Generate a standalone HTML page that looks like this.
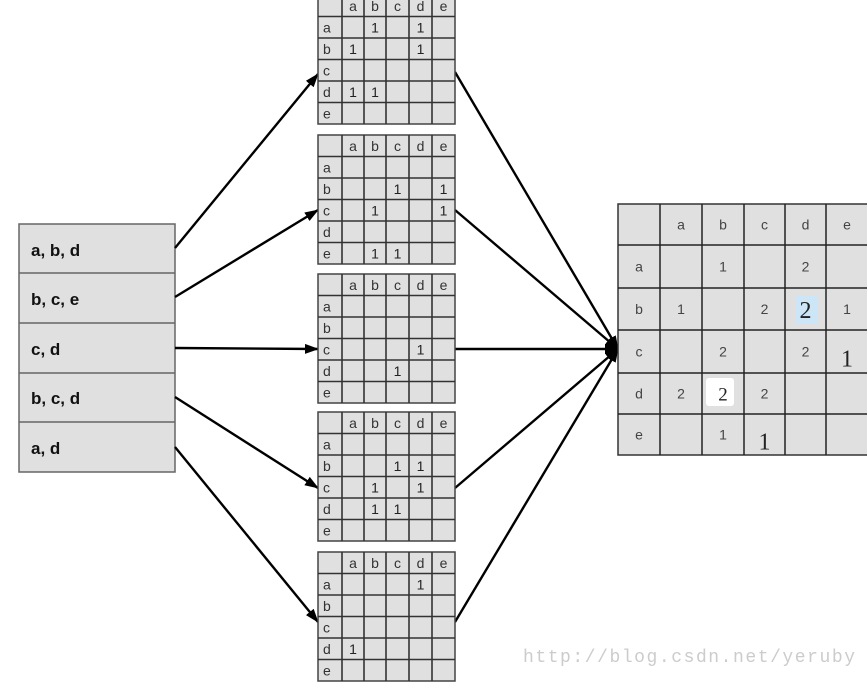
<!DOCTYPE html>
<html><head><meta charset="utf-8"><style>
body{margin:0;background:#fff;width:867px;height:690px;overflow:hidden}
svg text{font-family:"Liberation Sans",sans-serif}
</style></head><body>
<svg width="867" height="690" xmlns="http://www.w3.org/2000/svg">
<defs><marker id="ar" markerWidth="14" markerHeight="10" refX="13" refY="5" orient="auto" markerUnits="userSpaceOnUse"><path d="M0,0 L14,5 L0,10 z" fill="#000"/></marker></defs>
<g stroke="#666" stroke-width="1.5" fill="#e0e0e0">
<rect x="19" y="224" width="156" height="248"/>
<line x1="19" y1="273" x2="175" y2="273"/><line x1="19" y1="323" x2="175" y2="323"/><line x1="19" y1="373" x2="175" y2="373"/><line x1="19" y1="422" x2="175" y2="422"/>
</g>
<g font-size="17" font-weight="bold" fill="#111">
<text x="31" y="256">a, b, d</text><text x="31" y="305">b, c, e</text><text x="31" y="355">c, d</text><text x="31" y="404">b, c, d</text><text x="31" y="454">a, d</text>
</g>
<g stroke="#000" stroke-width="2.4" fill="none" marker-end="url(#ar)">
<line x1="175" y1="248" x2="318" y2="74"/>
<line x1="175" y1="297" x2="318" y2="210"/>
<line x1="175" y1="348" x2="318" y2="349"/>
<line x1="175" y1="397" x2="318" y2="488"/>
<line x1="175" y1="447" x2="318" y2="622"/>
<line x1="455" y1="72" x2="618" y2="349"/>
<line x1="455" y1="210" x2="618" y2="349"/>
<line x1="455" y1="349" x2="618" y2="349"/>
<line x1="455" y1="488" x2="618" y2="349"/>
<line x1="455" y1="622" x2="618" y2="349"/>
</g>
<g id="tables"></g>
<g id="big"></g>
<text x="523" y="662" font-size="18" fill="#ccc" textLength="332" lengthAdjust="spacing" style="font-family:'Liberation Mono',monospace">http://blog.csdn.net/yeruby</text>
</svg>
<script>
var NS="http://www.w3.org/2000/svg";
function el(p,t,a,txt){var e=document.createElementNS(NS,t);for(var k in a)e.setAttribute(k,a[k]);if(txt!=null)e.textContent=txt;p.appendChild(e);return e;}
var L="abcde";
var cx=[318,342,364,386,409,432,455];
var tops=[-5,135,274,412,552];
var data=[{a:"b,d",b:"a,d",d:"a,b"},{b:"c,e",c:"b,e",e:"b,c"},{c:"d",d:"c"},{b:"c,d",c:"b,d",d:"b,c"},{a:"d",d:"a"}];
var g=document.getElementById("tables");
tops.forEach(function(t,i){
 var h=21.5;
 el(g,"rect",{x:318,y:t,width:137,height:h*6,fill:"#e0e0e0",stroke:"#444","stroke-width":1.5});
 for(var r=1;r<6;r++)el(g,"line",{x1:318,x2:455,y1:t+r*h,y2:t+r*h,stroke:"#333","stroke-width":1.6});
 for(var c=1;c<6;c++)el(g,"line",{x1:cx[c],x2:cx[c],y1:t,y2:t+6*h,stroke:"#333","stroke-width":1.6});
 for(var k=0;k<5;k++){
  el(g,"text",{x:(cx[k+1]+cx[k+2])/2,y:t+h*0.5+5,"font-size":14,fill:"#333","text-anchor":"middle"},L[k]);
  el(g,"text",{x:323,y:t+h*(k+1.5)+5,"font-size":14,fill:"#333"},L[k]);
 }
 var d=data[i];
 for(var row in d){var ri=L.indexOf(row);d[row].split(",").forEach(function(col){var ci=L.indexOf(col);
  el(g,"text",{x:(cx[ci+1]+cx[ci+2])/2,y:t+h*(ri+1.5)+5,"font-size":14,fill:"#222","text-anchor":"middle"},"1");});}
});
var b=document.getElementById("big");
var bx=[618,660,702,744,785,826,868],by=[204,245,288,330,373,414,455];
el(b,"rect",{x:618,y:204,width:260,height:251,fill:"#e0e0e0",stroke:"#333","stroke-width":1.5});
el(b,"rect",{x:796,y:295,width:22,height:29,fill:"#cce6f7"});
el(b,"rect",{x:706,y:378,width:28,height:28,rx:3,fill:"#fff"});
for(var i=1;i<6;i++){el(b,"line",{x1:618,x2:868,y1:by[i],y2:by[i],stroke:"#222","stroke-width":1.5});el(b,"line",{x1:bx[i],x2:bx[i],y1:204,y2:455,stroke:"#222","stroke-width":1.5});}
for(var k=0;k<5;k++){
 el(b,"text",{x:(bx[k+1]+bx[k+2])/2,y:(by[0]+by[1])/2+5,"font-size":14,fill:"#444","text-anchor":"middle"},L[k]);
 el(b,"text",{x:639,y:(by[k+1]+by[k+2])/2+5,"font-size":14,fill:"#444","text-anchor":"middle"},L[k]);
}
var bv=[["a","b","1"],["a","d","2"],["b","a","1"],["b","c","2"],["b","e","1"],["c","b","2"],["c","d","2"],["d","a","2"],["d","c","2"],["e","b","1"]];
bv.forEach(function(v){var r=L.indexOf(v[0]),c=L.indexOf(v[1]);
 el(b,"text",{x:(bx[c+1]+bx[c+2])/2,y:(by[r+1]+by[r+2])/2+5,"font-size":14,fill:"#444","text-anchor":"middle"},v[2]);});
var sv=[["b","d","2",24],["c","e","1",24],["d","b","2",19],["e","c","1",24]];
sv.forEach(function(v){var r=L.indexOf(v[0]),c=L.indexOf(v[1]);
 var t=el(b,"text",{x:(bx[c+1]+bx[c+2])/2,y:(by[r+1]+by[r+2])/2+(v[3]>20?9:7)+(v[0]=="c"||v[0]=="e"?6:0),"font-size":v[3],fill:"#222","text-anchor":"middle"},v[2]);t.style.fontFamily="'Liberation Serif',serif";});
</script>
</body></html>
